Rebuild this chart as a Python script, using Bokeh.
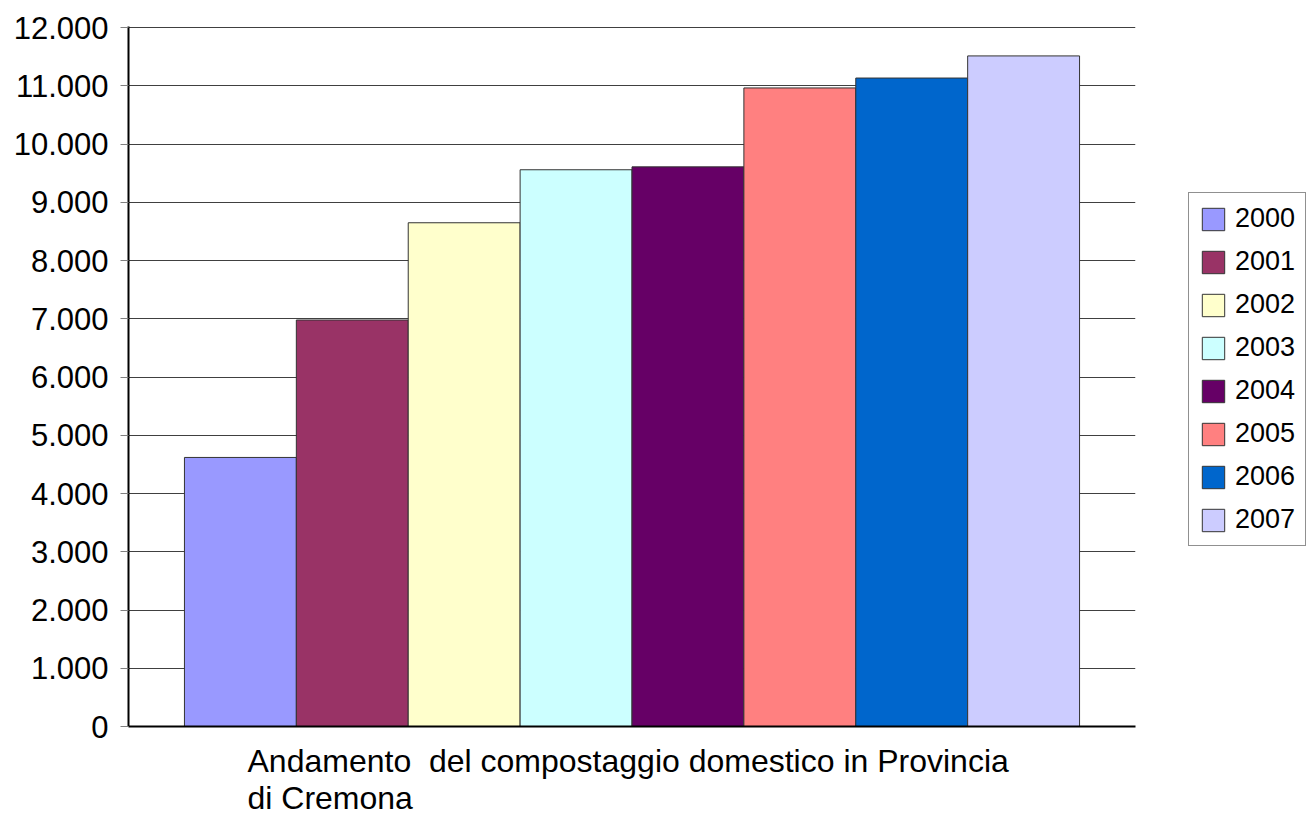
from bokeh.plotting import figure
from bokeh.models import (ColumnDataSource, FactorRange, Range1d, FixedTicker,
                          Legend, LegendItem, Title)
from bokeh.embed import file_html
from bokeh.resources import INLINE

# ---- data ----
category = "Andamento \u00a0del compostaggio domestico in Provincia\ndi Cremona"
years = ["2000", "2001", "2002", "2003", "2004", "2005", "2006", "2007"]
values = [4620, 6980, 8650, 9560, 9610, 10965, 11135, 11515]
colors = ["#9999FF", "#993366", "#FFFFCC", "#CCFFFF", "#660066", "#FF8080", "#0066CC", "#CCCCFF"]
y_ticks = [0, 1000, 2000, 3000, 4000, 5000, 6000, 7000, 8000, 9000, 10000, 11000, 12000]
y_tick_labels = ["0", "1.000", "2.000", "3.000", "4.000", "5.000", "6.000", "7.000",
                 "8.000", "9.000", "10.000", "11.000", "12.000"]

FONT = "Liberation Sans"

src = ColumnDataSource(dict(year=years, value=values, color=colors))

p = figure(x_range=FactorRange(factors=years, range_padding=0.125),
           y_range=Range1d(0, 12020),
           frame_width=1007, frame_height=700,
           min_border_left=128, min_border_top=26, min_border_bottom=90, min_border_right=163,
           output_backend="svg", toolbar_location=None)
p.outline_line_color = None
p.background_fill_color = "white"

r = p.vbar(x="year", top="value", width=1.0, source=src, fill_color="color",
           line_color="#333333", line_width=1)

# axes
p.yaxis.ticker = FixedTicker(ticks=y_ticks)
p.yaxis.major_label_overrides = {t: l for t, l in zip(y_ticks, y_tick_labels)}
p.yaxis.major_label_text_font = FONT
p.yaxis.major_label_text_font_size = "31px"
p.yaxis.major_label_text_color = "black"
p.yaxis.major_tick_in = 0
p.yaxis.major_tick_out = 8
p.yaxis.major_tick_line_color = "#808080"
p.yaxis.minor_tick_line_color = None
p.yaxis.axis_line_color = "black"
p.yaxis.axis_line_width = 2
p.yaxis.major_label_standoff = 12

p.xaxis.major_label_text_color = None
p.xaxis.major_label_text_font_size = "1px"
p.xaxis.major_tick_line_color = None
p.xaxis.minor_tick_line_color = None
p.xaxis.axis_line_color = "black"
p.xaxis.axis_line_width = 2

p.xgrid.grid_line_color = None
p.ygrid.grid_line_color = "#404040"
p.ygrid.grid_line_width = 1

# category label below the axis
p.add_layout(Title(text=category, align="left", offset=119, standoff=18,
                   text_font=FONT, text_font_size="32px", text_font_style="normal",
                   text_color="black", text_line_height=1.03), "below")

# legend
items = [LegendItem(label=y, renderers=[r], index=i) for i, y in enumerate(years)]
legend = Legend(items=items, location=(53, 180), margin=0,
                label_text_font=FONT, label_text_font_size="27px", label_text_color="black",
                glyph_width=28, glyph_height=28, label_height=28,
                label_standoff=8, spacing=12, padding=10,
                border_line_color="#222222", border_line_width=1,
                background_fill_color="white", background_fill_alpha=1.0)
p.add_layout(legend, "right")

open("out.html", "w").write(file_html(p, INLINE))
